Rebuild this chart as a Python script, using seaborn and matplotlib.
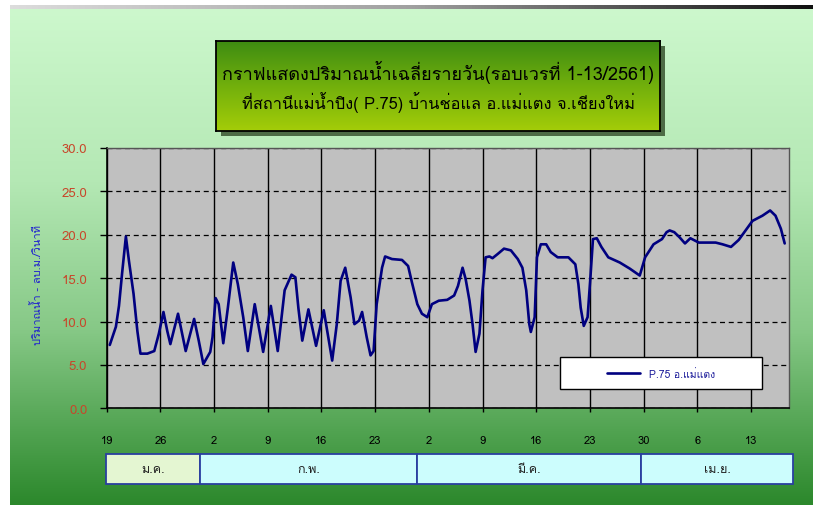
import numpy as np
import matplotlib
matplotlib.use("Agg")
import matplotlib.pyplot as plt
from matplotlib import font_manager
from matplotlib.ft2font import FT2Font
from matplotlib.colors import LinearSegmentedColormap
from matplotlib.patches import Rectangle
import seaborn as sns

# days counted from 19 ม.ค. 2561, flow in ลบ.ม./วินาที
day = [0.4, 1.2, 1.6, 2.0, 2.5, 2.9, 3.5, 4.0, 4.4, 5.3, 6.2, 6.8, 7.4, 7.9, 8.3, 9.3,
       10.3, 11.4, 12.0, 12.6, 13.5, 13.8, 14.2, 14.6, 15.2, 15.8, 16.5, 17.1, 17.8,
       18.4, 19.3, 20.4, 21.4, 22.3, 23.2, 24.1, 24.6, 25.0, 25.5, 26.3, 27.3, 28.3,
       29.4, 30.0, 30.5, 31.1, 31.8, 32.3, 32.9, 33.3, 33.9, 34.4, 34.8, 35.2, 35.9,
       36.3, 37.2, 38.5, 39.3, 39.8, 40.5, 41.1, 41.8, 42.4, 43.3, 44.4, 45.3, 45.8,
       46.4, 46.8, 47.3, 47.7, 48.1, 48.6, 49.0, 49.4, 49.9, 50.3, 51.0, 51.8, 52.7,
       53.6, 54.2, 54.7, 55.1, 55.3, 55.8, 56.1, 56.6, 57.3, 57.9, 58.8, 60.2, 61.1,
       61.5, 61.8, 62.2, 62.7, 63.1, 63.4, 63.9, 64.5, 65.4, 66.9, 68.2, 69.5, 70.2,
       71.3, 72.4, 73.0, 73.4, 74.0, 74.7, 75.4, 76.1, 77.2, 79.4, 80.3, 81.4, 82.4,
       83.3, 84.2, 85.5, 86.5, 87.2, 87.9, 88.4]
flow = [7.3, 9.4, 11.8, 15.5, 19.8, 17.0, 13.2, 8.9, 6.3, 6.3, 6.6, 8.6, 11.1, 8.9, 7.4, 10.9,
        6.6, 10.3, 7.8, 5.1, 6.5, 8.2, 12.7, 12.0, 7.5, 11.6, 16.8, 14.3, 10.5,
        6.6, 12.0, 6.5, 11.8, 6.6, 13.6, 15.4, 15.1, 11.5, 7.8, 11.4, 7.2, 11.3,
        5.5, 9.7, 14.7, 16.2, 12.8, 9.7, 10.1, 11.1, 8.2, 6.1, 6.6, 12.0, 16.2,
        17.5, 17.2, 17.1, 16.4, 14.5, 12.0, 10.9, 10.5, 12.0, 12.4, 12.5, 13.0, 14.1,
        16.2, 14.9, 12.4, 9.7, 6.5, 8.6, 13.6, 17.4, 17.5, 17.3, 17.8, 18.4, 18.2,
        17.2, 16.2, 13.6, 9.7, 8.8, 10.5, 17.4, 18.9, 18.9, 18.0, 17.4, 17.4, 16.6,
        14.3, 11.6, 9.5, 10.5, 15.5, 19.5, 19.6, 18.6, 17.4, 16.8, 16.1, 15.3, 17.4,
        18.9, 19.5, 20.3, 20.5, 20.3, 19.7, 19.0, 19.6, 19.1, 19.1, 18.9, 18.6, 19.4,
        20.5, 21.6, 22.2, 22.8, 22.2, 20.7, 19.0]

tick_days = [0, 7, 14, 21, 28, 35, 42, 49, 56, 63, 70, 77, 84]
tick_labels = ["19", "26", "2", "9", "16", "23", "2", "9", "16", "23", "30", "6", "13"]

months = ["ม.ค.", "ก.พ.", "มี.ค.", "เม.ย."]
month_edges = [0, 0.137, 0.453, 0.779, 1.0]
month_colors = ["#e4f6d2", "#ccfdfd", "#ccfdfd", "#ccfdfd"]

title1 = "กราฟแสดงปริมาณน้ำเฉลี่ยรายวัน(รอบเวรที่ 1-13/2561)"
title2 = "ที่สถานีแม่น้ำปิง( P.75) บ้านช่อแล อ.แม่แตง จ.เชียงใหม่"
ylabel = "ปริมาณน้ำ - ลบ.ม./วินาที"
series_name = "P.75 อ.แม่แตง"

sns.set_style("white")

# look for any installed font that has Thai glyphs
thai_font = "DejaVu Sans"
for f in font_manager.fontManager.ttflist:
    try:
        if 0x0E01 in FT2Font(f.fname).get_charmap():
            thai_font = f.name
            break
    except Exception:
        pass
plt.rcParams["font.family"] = [thai_font, "DejaVu Sans"]

fig = plt.figure(figsize=(8.13, 5.06), dpi=100)
fig.patch.set_facecolor("white")

# green gradient background + grey bar at the top
bg = fig.add_axes([0, 0, 1, 1], zorder=-10)
bg.set_xlim(0, 1)
bg.set_ylim(0, 1)
bg.axis("off")
green = LinearSegmentedColormap.from_list(
    "g", [(0, "#2c882c"), (0.12, "#4a9e4a"), (0.35, "#86c886"), (0.65, "#b4e8b4"), (1, "#cdf8cd")])
grad = np.linspace(0, 1, 256).reshape(-1, 1)
bg.imshow(grad, cmap=green, origin="lower", aspect="auto",
          extent=[10 / 813, 1, 0, 1 - 9 / 506])
grey = LinearSegmentedColormap.from_list("k", ["#dcdcdc", "#a0a0a0", "#101010"])
bg.imshow(np.linspace(0, 1, 256).reshape(1, -1), cmap=grey, aspect="auto",
          extent=[10 / 813, 1, 1 - 10 / 506, 1 - 6 / 506])
# shadow of the title box
bg.add_patch(Rectangle((221 / 813, 1 - 137 / 506), 444 / 813, 90 / 506,
                       facecolor="#4d6b45", edgecolor="none"))

# title box
tb = fig.add_axes([216 / 813, 1 - 132 / 506, 444 / 813, 90 / 506])
tb.imshow(np.linspace(0, 1, 256).reshape(-1, 1), origin="lower", aspect="auto",
          cmap=LinearSegmentedColormap.from_list("t", ["#a4cd08", "#72b00c", "#3e8c12"]),
          extent=[0, 1, 0, 1])
tb.set_xlim(0, 1)
tb.set_ylim(0, 1)
tb.set_xticks([])
tb.set_yticks([])
for s in tb.spines.values():
    s.set_color("black")
    s.set_linewidth(1.3)
tb.text(0.5, 0.66, title1, ha="center", va="center", fontsize=13, color="black")
tb.text(0.5, 0.33, title2, ha="center", va="center", fontsize=11.8, color="black")

# main chart
ax = fig.add_axes([106.7 / 813, 1 - 409.3 / 506, 682.6 / 813, 260.3 / 506])
ax.set_facecolor("#c0c0c0")
sns.lineplot(x=day, y=flow, ax=ax, color="#000080", linewidth=1.9,
             label=series_name, estimator=None, sort=False, zorder=3)

ax.set_xlim(0, 89)
ax.set_ylim(0, 30)
ax.set_xticks(tick_days)
ax.set_xticklabels(tick_labels)
ax.set_yticks(np.arange(0, 31, 5))
ax.set_yticklabels([f"{v:.1f}" for v in np.arange(0, 31, 5)])
ax.grid(axis="x", color="black", linewidth=1.0, linestyle="-")
ax.grid(axis="y", color="black", linewidth=0.9, linestyle=(0, (4, 3)))
ax.set_axisbelow(True)
ax.tick_params(axis="y", direction="out", length=5, width=1, color="black",
               labelcolor="#c8462a", labelsize=9.5, pad=9, left=True)
ax.tick_params(axis="x", direction="out", length=3, width=1, color="black",
               labelcolor="black", labelsize=8, pad=16, bottom=True)
for side in ["left", "bottom"]:
    ax.spines[side].set_color("black")
    ax.spines[side].set_linewidth(1.2)
for side in ["top", "right"]:
    ax.spines[side].set_color("#555555")
    ax.spines[side].set_linewidth(1.0)
ax.set_xlabel("")
ax.set_ylabel("")

# legend box
ax.add_patch(Rectangle((0.664, 0.074), 0.296, 0.123, transform=ax.transAxes,
                       facecolor="white", edgecolor="black", linewidth=1.0, zorder=4))
leg = ax.legend(loc="center", bbox_to_anchor=(0.812, 0.1355), frameon=False,
                handlelength=3.2, fontsize=7.5, labelcolor="#1a1a99")
leg.set_zorder(6)

fig.text(37 / 813, 1 - 285 / 506, ylabel, rotation=90, ha="center", va="center",
         color="#1f1fd0", fontsize=8)

# month strip under the axis
axm = fig.add_axes([106 / 813, 1 - 485 / 506, 687 / 813, 30 / 506])
axm.set_xlim(0, 1)
axm.set_ylim(0, 1)
axm.axis("off")
for i, m in enumerate(months):
    axm.add_patch(Rectangle((month_edges[i], 0), month_edges[i + 1] - month_edges[i], 1,
                            facecolor=month_colors[i], edgecolor="#2a3fa0", linewidth=1.3,
                            clip_on=False))
    axm.text((month_edges[i] + month_edges[i + 1]) / 2, 0.5, m, ha="center", va="center",
             fontsize=9, color="#222222")

plt.savefig("out.png", dpi=100)
